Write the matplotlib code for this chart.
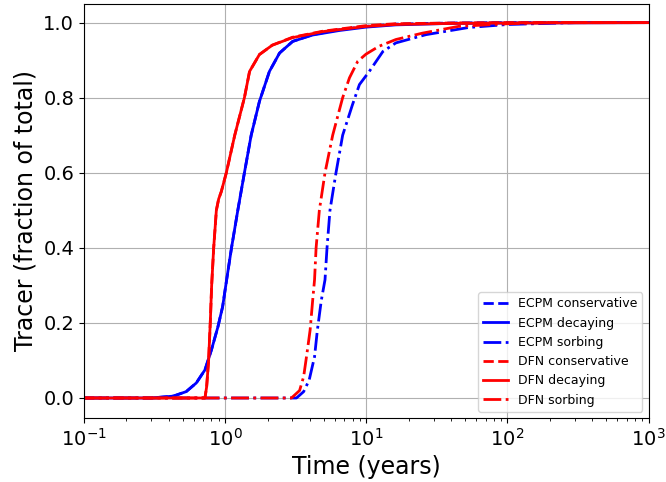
import numpy as np
import matplotlib.pyplot as plt

# breakthrough curves (time in years, cumulative fraction)
ecpm_t = [0.1, 0.3, 0.43, 0.53, 0.625, 0.72, 0.8, 0.89, 0.96, 1.03, 1.11, 1.23, 1.37,
          1.53, 1.75, 2.06, 2.43, 3.01, 4.17, 6.44, 9.95, 16.2, 40.0, 100.0, 1000.0]
ecpm_c = [0.0, 0.0, 0.005, 0.017, 0.04, 0.075, 0.128, 0.19, 0.243, 0.32, 0.4, 0.5, 0.6,
          0.7, 0.79, 0.87, 0.919, 0.95, 0.968, 0.981, 0.99, 0.996, 0.999, 1.0, 1.0]
ecpm_decay_c = [0.0, 0.0, 0.005, 0.017, 0.04, 0.075, 0.128, 0.19, 0.243, 0.32, 0.4, 0.5, 0.6,
                0.7, 0.79, 0.87, 0.919, 0.95, 0.967, 0.979, 0.988, 0.994, 0.998, 0.999, 1.0]

ecpm_sorb_t = [0.1, 3.2, 3.27, 3.6, 3.94, 4.3, 4.5, 4.8, 5.1, 5.27, 5.53, 6.1, 6.8,
               7.96, 8.94, 10.5, 13.1, 16.2, 26.5, 53.0, 100.0, 300.0, 1000.0]
ecpm_sorb_c = [0.0, 0.0, 0.003, 0.017, 0.048, 0.11, 0.18, 0.26, 0.315, 0.4, 0.5, 0.6, 0.7,
               0.78, 0.835, 0.87, 0.923, 0.946, 0.968, 0.987, 0.995, 1.0, 1.0]

dfn_t = [0.1, 0.72, 0.74, 0.764, 0.785, 0.803, 0.83, 0.867, 0.9, 0.94, 1.02, 1.17,
         1.37, 1.49, 1.75, 2.16, 3.0, 4.9, 9.95, 16.0, 40.0, 100.0, 1000.0]
dfn_c = [0.0, 0.0, 0.03, 0.1, 0.2, 0.3, 0.4, 0.5, 0.53, 0.55, 0.6, 0.7,
         0.8, 0.87, 0.915, 0.94, 0.961, 0.977, 0.992, 0.997, 0.999, 1.0, 1.0]
dfn_decay_c = [0.0, 0.0, 0.03, 0.1, 0.2, 0.3, 0.4, 0.5, 0.53, 0.55, 0.6, 0.7,
               0.8, 0.87, 0.915, 0.94, 0.96, 0.976, 0.99, 0.995, 0.998, 0.999, 1.0]

dfn_sorb_t = [0.1, 2.95, 3.01, 3.37, 3.6, 3.8, 4.0, 4.17, 4.3, 4.41, 4.65, 5.1, 5.78,
              6.8, 7.6, 8.7, 9.95, 12.3, 16.2, 25.0, 45.0, 100.0, 200.0, 1000.0]
dfn_sorb_c = [0.0, 0.0, 0.003, 0.02, 0.057, 0.119, 0.181, 0.26, 0.315, 0.4, 0.5, 0.6, 0.7,
              0.8, 0.853, 0.897, 0.916, 0.937, 0.955, 0.972, 0.99, 0.997, 1.0, 1.0]

fig, ax = plt.subplots(figsize=(6.66, 4.82), dpi=100)
fig.subplots_adjust(left=0.126, right=0.974, bottom=0.133, top=0.992)

ax.plot(ecpm_t, ecpm_c, '--', color='blue', lw=2, label='ECPM conservative')
ax.plot(ecpm_t, ecpm_decay_c, '-', color='blue', lw=2, label='ECPM decaying')
ax.plot(ecpm_sorb_t, ecpm_sorb_c, '-.', color='blue', lw=2, label='ECPM sorbing')
ax.plot(dfn_t, dfn_c, '--', color='red', lw=2, label='DFN conservative')
ax.plot(dfn_t, dfn_decay_c, '-', color='red', lw=2, label='DFN decaying')
ax.plot(dfn_sorb_t, dfn_sorb_c, '-.', color='red', lw=2, label='DFN sorbing')

ax.set_xscale('log')
ax.set_xlim(0.1, 1000)
ax.set_ylim(-0.053, 1.05)
ax.grid(True)
ax.tick_params(labelsize=14)
ax.set_xlabel('Time (years)', fontsize=17)
ax.set_ylabel('Tracer (fraction of total)', fontsize=17)
ax.legend(loc='lower right', fontsize=9)

plt.savefig('out.png')
